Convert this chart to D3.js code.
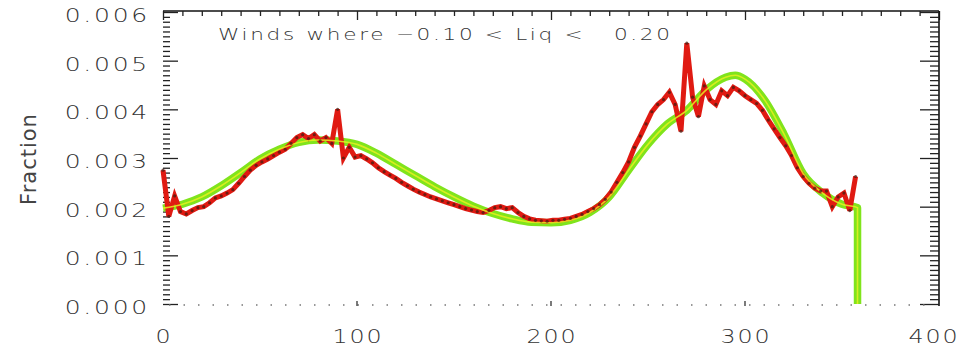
<!DOCTYPE html>
<html>
<head>
<meta charset="utf-8">
<script src="https://cdn.jsdelivr.net/npm/d3@7"></script>
<style>
  html, body { margin: 0; padding: 0; background: #fff; }
  svg { display: block; }
  .lbl { font-family: "DejaVu Sans", sans-serif; font-weight: 200; fill: #333; }
</style>
</head>
<body>
<svg id="chart" width="965" height="352"></svg>
<script>
// Wind direction bins (degrees), 3-degree steps
const binStart = d3.range(0, 360, 3);

// Observed fraction per direction bin
const observed = [
  0.00275, 0.00180, 0.00222, 0.00190, 0.00185, 0.00192, 0.00198, 0.00200, 0.00208, 0.00218,
  0.00222, 0.00228, 0.00235, 0.00248, 0.00262, 0.00275, 0.00285, 0.00292, 0.00298, 0.00305,
  0.00312, 0.00318, 0.00330, 0.00342, 0.00348, 0.00340, 0.00348, 0.00335, 0.00342, 0.00330,
  0.00400, 0.00300, 0.00322, 0.00302, 0.00305, 0.00298, 0.00290, 0.00280, 0.00272, 0.00265,
  0.00258, 0.00250, 0.00243, 0.00236, 0.00230, 0.00225, 0.00220, 0.00216, 0.00212, 0.00208,
  0.00204, 0.00200, 0.00196, 0.00193, 0.00190, 0.00188, 0.00192, 0.00198, 0.00200, 0.00196,
  0.00198, 0.00188, 0.00180, 0.00175, 0.00172, 0.00171, 0.00170, 0.00172, 0.00172, 0.00174,
  0.00176, 0.00180, 0.00184, 0.00190, 0.00196, 0.00204, 0.00215, 0.00230, 0.00250, 0.00270,
  0.00292, 0.00322, 0.00345, 0.00370, 0.00395, 0.00410, 0.00420, 0.00435, 0.00410, 0.00355,
  0.00536, 0.00425, 0.00385, 0.00448, 0.00420, 0.00410, 0.00438, 0.00428, 0.00445, 0.00438,
  0.00428, 0.00420, 0.00412, 0.00398, 0.00378, 0.00360, 0.00342, 0.00325, 0.00305, 0.00280,
  0.00262, 0.00248, 0.00238, 0.00232, 0.00232, 0.00200, 0.00220, 0.00228, 0.00192, 0.00262
];

// Smooth fitted curve
const fitX = [0, 10, 20, 30, 40, 50, 60, 70, 80, 90, 100, 110, 120, 130, 140, 150, 160, 170, 180, 190,
  200, 210, 220, 230, 240, 250, 260, 270, 280, 290, 295, 300, 310, 320, 330, 340, 350, 358, 358];
const fitY = [0.00197, 0.00205, 0.00220, 0.00243, 0.00270, 0.00298, 0.00318, 0.00332, 0.00337, 0.00335,
  0.00328, 0.00310, 0.00287, 0.00264, 0.00241, 0.00220, 0.00201, 0.00186, 0.00175, 0.00168,
  0.00167, 0.00172, 0.00188, 0.00220, 0.00275, 0.00328, 0.00370, 0.00398, 0.00440, 0.00466,
  0.00470, 0.00462, 0.00420, 0.00350, 0.00268, 0.00228, 0.00205, 0.00198, 0];

// Axis ticks
const xTicks = [0, 100, 200, 300, 400];
const yTicks = [0, 0.001, 0.002, 0.003, 0.004, 0.005, 0.006];
const yTickLabels = ["0.000", "0.001", "0.002", "0.003", "0.004", "0.005", "0.006"];
const titleText = "Winds where \u22120.10 < Liq <   0.20";
const yTitle = "Fraction";

const svg = d3.select("#chart");
const plotL = 163, plotR = 939, plotT = 11, plotB = 304;
const stretch = 1.25; // wide plotter-style glyphs

const x = d3.scaleLinear().domain([0, 400]).range([plotL, plotR]);
const y = d3.scaleLinear().domain([0, 0.006]).range([plotB, 12]);

// ---- Axes ----
// top axis: solid line with ticks pointing down
const topAxis = d3.axisTop(x).tickValues(d3.range(0, 401, 10)).tickSize(-5).tickFormat("");
const gTop = svg.append("g").attr("transform", `translate(0,${plotT})`).call(topAxis);
gTop.select(".domain").attr("stroke", "#111").attr("stroke-width", 1.6).attr("d", `M${plotL},0H${plotR}`);
gTop.selectAll(".tick line").attr("stroke", "#222").attr("stroke-width", 1.3)
  .attr("y2", d => (d % 100 === 0 ? 9 : 5));

// right axis: solid line, ticks pointing left
const minorY = d3.range(0, 61).map(i => i * 0.0001);
const rAxis = d3.axisRight(y).tickValues(minorY).tickFormat("");
const gRight = svg.append("g").attr("transform", `translate(${plotR},0)`).call(rAxis);
gRight.select(".domain").attr("stroke", "#111").attr("stroke-width", 1.6)
  .attr("d", `M0,${plotT}V${plotB + 2}`);
gRight.selectAll(".tick line").attr("stroke", "#222").attr("stroke-width", 1.3)
  .attr("x2", (d, i) => (i % 10 === 0 ? -19 : -9));

// left axis: tick marks only
const lAxis = d3.axisLeft(y).tickValues(minorY).tickFormat("");
const gLeft = svg.append("g").attr("transform", `translate(${plotL},0)`).call(lAxis);
gLeft.select(".domain").remove();
gLeft.selectAll(".tick line").attr("stroke", "#222").attr("stroke-width", 1.3)
  .attr("x2", (d, i) => (i % 10 === 0 ? 15 : 7));

// y tick labels
svg.append("g").selectAll("text").data(yTicks).join("text")
  .attr("class", "lbl")
  .attr("transform", d => `translate(150,${y(d) + 10}) scale(${stretch},1)`)
  .attr("text-anchor", "end")
  .attr("font-size", 20).attr("letter-spacing", 2.2)
  .text((d, i) => yTickLabels[i]);

// bottom axis: faint dotted baseline with small major ticks
svg.append("line")
  .attr("x1", plotL + 6).attr("x2", plotR - 6).attr("y1", plotB + 1).attr("y2", plotB + 1)
  .attr("stroke", "#777").attr("stroke-width", 1.4).attr("stroke-dasharray", "1.5,13");
svg.append("g").selectAll("line").data(xTicks.slice(1, 4)).join("line")
  .attr("x1", d => x(d)).attr("x2", d => x(d))
  .attr("y1", plotB - 3).attr("y2", plotB + 2)
  .attr("stroke", "#333").attr("stroke-width", 1.3);

// x tick labels
svg.append("g").selectAll("text").data(xTicks).join("text")
  .attr("class", "lbl")
  .attr("transform", d => `translate(${Math.min(x(d), 933) + 1},343) scale(${stretch},1)`)
  .attr("text-anchor", "middle")
  .attr("font-size", 19).attr("letter-spacing", 1.5)
  .text(d => d);

// axis title
svg.append("text")
  .attr("transform", "translate(36,159) rotate(-90)")
  .attr("text-anchor", "middle")
  .attr("font-family", "DejaVu Sans, sans-serif")
  .attr("font-size", 21).attr("letter-spacing", 1)
  .attr("fill", "#444")
  .text(yTitle);

// chart title (keeps the run of spaces before the upper bound)
svg.append("text")
  .attr("class", "lbl")
  .attr("transform", `translate(218,40) scale(1.35,1)`)
  .attr("font-size", 16)
  .style("white-space", "pre")
  .attr("xml:space", "preserve")
  .attr("textLength", 452 / 1.35).attr("lengthAdjust", "spacing")
  .attr("fill", "#222")
  .text(titleText);

// ---- Data ----
const fitSmooth = d3.line().x((d, i) => x(fitX[i])).y(d => y(d)).curve(d3.curveMonotoneX);

// fitted curve, green band
svg.append("path")
  .attr("d", fitSmooth(fitY))
  .attr("fill", "none").attr("stroke", "#80e41c").attr("stroke-width", 7.5)
  .attr("stroke-linejoin", "round");

// observed distribution
const obsLine = d3.line().x((d, i) => x(binStart[i])).y(d => y(d));
svg.append("path")
  .attr("d", obsLine(observed))
  .attr("fill", "none").attr("stroke", "#e01a12").attr("stroke-width", 5)
  .attr("stroke-linejoin", "miter");

// yellow core of fitted curve
svg.append("path")
  .attr("d", fitSmooth(fitY))
  .attr("fill", "none").attr("stroke", "#e8f020").attr("stroke-width", 1.6)
  .attr("opacity", 0.85);

// observed points
svg.append("g").selectAll("circle").data(observed).join("circle")
  .attr("cx", (d, i) => x(binStart[i]))
  .attr("cy", d => y(d))
  .attr("r", 1.6)
  .attr("fill", "#4a1c12").attr("opacity", 0.75);
</script>
</body>
</html>
